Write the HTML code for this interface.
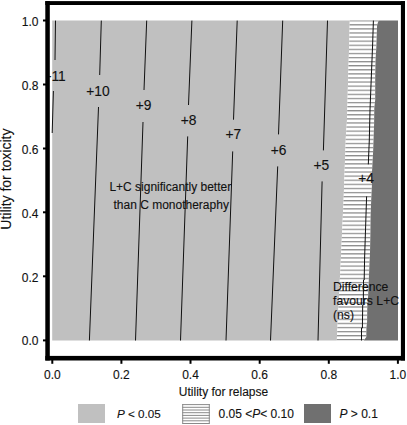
<!DOCTYPE html>
<html><head><meta charset="utf-8">
<style>
html,body{margin:0;padding:0;background:#fff;}
body{width:407px;height:425px;overflow:hidden;}
svg{display:block;}
text{font-family:"Liberation Sans",sans-serif;fill:#111;stroke:#111;stroke-width:0.12px;}
</style></head>
<body>
<svg width="407" height="425" viewBox="0 0 407 425">
<defs>
<pattern id="hatch" patternUnits="userSpaceOnUse" x="0" y="20.1" width="20" height="4.09">
<rect x="0" y="0" width="20" height="4.09" fill="#fff"/>
<rect x="0" y="0" width="20" height="1.25" fill="#8c8c8c"/>
</pattern>
<clipPath id="plotclip"><rect x="49.3" y="5" width="351.7" height="351"/></clipPath>
</defs>
<!-- regions -->
<polygon points="52.2,20.6 349.8,20.6 349.3,41 348.4,70 347,120 345.8,138 343.6,200 342.2,230 341.3,250 336.8,340.5 52.2,340.5" fill="#c0c0c0"/>
<polygon points="349.8,20.6 349.3,41 348.4,70 347,120 345.8,138 343.6,200 342.2,230 341.3,250 336.8,340.5 363.8,340.5 366.3,337 366.4,328 367.1,322 367.3,305 368.1,296 368.8,280 369.4,265 370,253 370.4,233 370.6,216 371.2,200 371.9,186 372,172 373.2,150 373.6,138 374.1,124 374.3,108 375.2,100 375.2,78 375.6,59 376.3,48 377.1,25 378.6,20.6" fill="url(#hatch)"/>
<polygon points="398,20.6 378.6,20.6 377.1,25 376.3,48 375.6,59 375.2,78 375.2,100 374.3,108 374.1,124 373.6,138 373.2,150 372,172 371.9,186 371.2,200 370.6,216 370.4,233 370,253 369.4,265 368.8,280 368.1,296 367.3,305 367.1,322 366.4,328 366.3,337 363.8,340.5 398,340.5" fill="#707070"/>
<!-- contour lines -->
<g stroke="#111" stroke-width="1" fill="none">
<polyline points="55.5,20.6 55,60"/>
<polyline points="53.4,91 52.2,133"/>
<polyline points="101.3,20.6 99.7,75"/>
<polyline points="98.5,107 89.4,340.5"/>
<polyline points="146.7,20.6 144,90"/>
<polyline points="143,122 135.5,340.5"/>
<polyline points="191.9,20.6 188.5,105"/>
<polyline points="187.7,136.4 180.5,340.5"/>
<polyline points="237.2,20.6 233.5,119.7"/>
<polyline points="232.7,151.4 226,340.5"/>
<polyline points="282.7,20.6 278.5,134.4"/>
<polyline points="277.7,166.4 270.5,340.5"/>
<polyline points="327.5,20.6 323.4,150.4"/>
<polyline points="322.1,181.4 318,340.5"/>
<polyline points="373.4,20.6 372.6,45 371.2,80 370,110 369.3,140 368.3,164.4"/>
<polyline points="366.6,196.4 364.6,258 364.2,280 363.5,280 363.3,305 362.7,305 362.4,328 361.5,328 361.5,340.5"/>
</g>
<!-- contour labels -->
<g font-size="13.8" text-anchor="middle" clip-path="url(#plotclip)">
<text x="54.6" y="80.54">+11</text>
<text x="98" y="95.59">+10</text>
<text x="143.5" y="110.44">+9</text>
<text x="188.5" y="124.84">+8</text>
<text x="233.4" y="139.34">+7</text>
<text x="278.5" y="155.04">+6</text>
<text x="321.4" y="170.04">+5</text>
<text x="366" y="183.44">+4</text>
</g>
<!-- annotations -->
<g font-size="12" text-anchor="middle">
<text x="170.3" y="190.5">L+C significantly better</text>
<text x="171.2" y="208.9">than C monotheraphy</text>
</g>
<g font-size="12.2">
<text x="333" y="291.2">Difference</text>
<text x="333" y="305.2">favours L+C</text>
<text x="333" y="319">(ns)</text>
</g>
<!-- border -->
<g fill="#000">
<rect x="45.3" y="1.1" width="359.7" height="3.9"/>
<rect x="45.3" y="355.9" width="359.7" height="4.6"/>
<rect x="45.3" y="1.1" width="4.5" height="359.4"/>
<rect x="400.9" y="1.1" width="4.1" height="359.4"/>
</g>
<!-- ticks -->
<g stroke="#000" stroke-width="2">
<line x1="43" y1="20.5" x2="46" y2="20.5"/>
<line x1="43" y1="84.5" x2="46" y2="84.5"/>
<line x1="43" y1="148.5" x2="46" y2="148.5"/>
<line x1="43" y1="212.3" x2="46" y2="212.3"/>
<line x1="43" y1="276.3" x2="46" y2="276.3"/>
<line x1="43" y1="340.4" x2="46" y2="340.4"/>
<line x1="52.3" y1="360" x2="52.3" y2="363.8"/>
<line x1="121.4" y1="360" x2="121.4" y2="363.8"/>
<line x1="190.5" y1="360" x2="190.5" y2="363.8"/>
<line x1="259.7" y1="360" x2="259.7" y2="363.8"/>
<line x1="328.8" y1="360" x2="328.8" y2="363.8"/>
<line x1="397.9" y1="360" x2="397.9" y2="363.8"/>
</g>
<g font-size="12" text-anchor="end">
<text x="38.5" y="26.2">1.0</text>
<text x="38.5" y="90.1">0.8</text>
<text x="38.5" y="154.1">0.6</text>
<text x="38.5" y="218">0.4</text>
<text x="38.5" y="282">0.2</text>
<text x="38.5" y="345.4">0.0</text>
</g>
<g font-size="12" text-anchor="middle">
<text x="52.3" y="378.5">0.0</text>
<text x="121.4" y="378.5">0.2</text>
<text x="190.5" y="378.5">0.4</text>
<text x="259.7" y="378.5">0.6</text>
<text x="328.8" y="378.5">0.8</text>
<text x="397.9" y="378.5">1.0</text>
</g>
<text x="223.5" y="396.4" font-size="12" text-anchor="middle">Utility for relapse</text>
<text transform="translate(11.0,179.1) rotate(-90)" font-size="14" text-anchor="middle">Utility for toxicity</text>
<!-- legend -->
<rect x="78" y="404" width="27" height="19" fill="#c0c0c0"/>
<text x="117" y="418" font-size="11.7"><tspan font-style="italic">P</tspan> &lt; 0.05</text>
<rect x="182.2" y="404.1" width="27.6" height="19.4" fill="#fff"/><g stroke="#8a8a8a" stroke-width="1"><line x1="182.2" y1="404.60" x2="209.8" y2="404.60"/><line x1="182.2" y1="407.30" x2="209.8" y2="407.30"/><line x1="182.2" y1="410.00" x2="209.8" y2="410.00"/><line x1="182.2" y1="412.70" x2="209.8" y2="412.70"/><line x1="182.2" y1="415.40" x2="209.8" y2="415.40"/><line x1="182.2" y1="418.10" x2="209.8" y2="418.10"/><line x1="182.2" y1="420.80" x2="209.8" y2="420.80"/><line x1="182.2" y1="423.50" x2="209.8" y2="423.50"/><line x1="182.7" y1="404.1" x2="182.7" y2="423.5"/><line x1="209.3" y1="404.1" x2="209.3" y2="423.5"/></g>
<text x="218.5" y="418" font-size="12">0.05 &lt;<tspan font-style="italic">P</tspan>&lt; 0.10</text>
<rect x="304" y="404" width="27" height="19" fill="#707070"/>
<text x="339.5" y="418" font-size="12"><tspan font-style="italic">P</tspan> &gt; 0.1</text>
</svg>
</body></html>
